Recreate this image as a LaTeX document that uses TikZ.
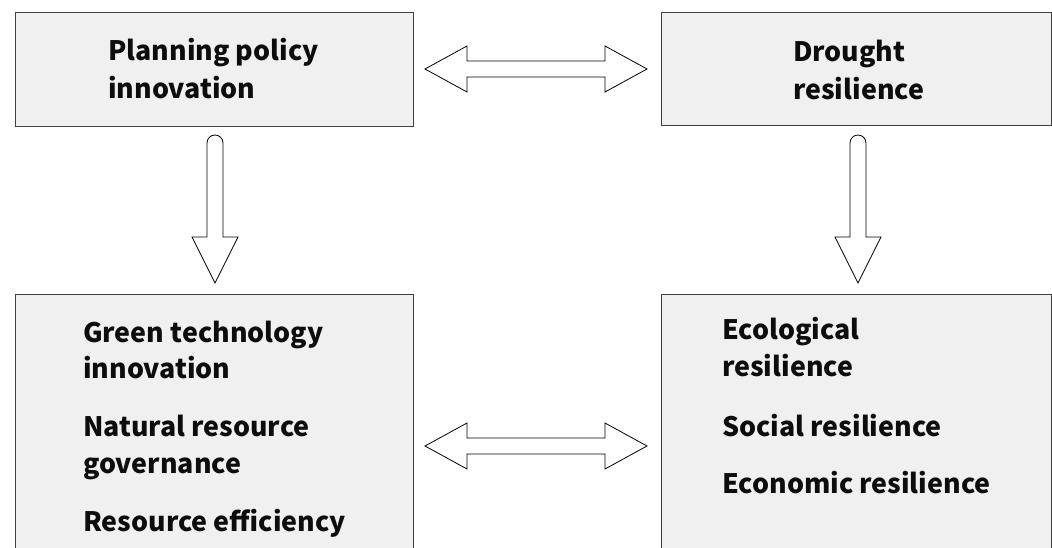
\documentclass[tikz,border=0pt]{standalone}
\usepackage{fontspec}
\setmainfont{Noto Sans CJK SC}
\begin{document}
\begin{tikzpicture}[x=1pt,y=-1pt,
  box/.style={draw=black!75, line width=0.9pt, fill=black!6, inner sep=0pt, rectangle},
  txt/.style={anchor=base west, inner sep=0pt, font=\fontsize{26.8}{33}\selectfont\bfseries, text=black!95},
  blockarrow/.style={draw=black, line width=0.8pt, fill=white, line join=miter}]
\clip (0,0) rectangle (1052,548);
\fill[white] (0,0) rectangle (1052,548);
% boxes
\node[box, minimum width=398pt, minimum height=114pt] (tl) at (214,69) {};
\node[box, minimum width=390pt, minimum height=113pt] (tr) at (856,68.5) {};
\node[box, minimum width=398pt, minimum height=270pt] (bl) at (214,429) {};
\node[box, minimum width=390pt, minimum height=270pt] (br) at (856,429) {};
% texts
\node[txt] (t1) at (108,61) {Planning policy};
\node[txt] (t2) at (108,99) {innovation};
\node[txt] (t3) at (793,62) {Drought};
\node[txt] (t4) at (793,100) {resilience};
\node[txt] (t5) at (83,342) {Green technology};
\node[txt] (t6) at (83,378) {innovation};
\node[txt] (t7) at (83,436) {Natural resource};
\node[txt] (t8) at (83,473) {governance};
\node[txt] (t9) at (83,531) {Resource efficiency};
\node[txt] (t10) at (722,339) {Ecological};
\node[txt] (t11) at (722,376) {resilience};
\node[txt] (t12) at (722,436) {Social resilience};
\node[txt] (t13) at (722,493) {Economic resilience};
% horizontal double arrows
\coordinate (h1l) at (425,69);
\coordinate (h1r) at (647,69);
\draw[blockarrow] (h1l) -- ++(42,-23) -- ++(0,15) -- ++(138,0) -- ++(0,-15) -- (h1r)
  -- ++(-42,23) -- ++(0,-15) -- ++(-138,0) -- ++(0,15) -- cycle;
\coordinate (h2l) at (425,446);
\coordinate (h2r) at (647,446);
\draw[blockarrow] (h2l) -- ++(42,-23) -- ++(0,15) -- ++(138,0) -- ++(0,-15) -- (h2r)
  -- ++(-42,23) -- ++(0,-15) -- ++(-138,0) -- ++(0,15) -- cycle;
% vertical arrows
\coordinate (v1) at (215,283);
\draw[blockarrow] (v1) -- ++(-23,-46) -- ++(15,0) -- ++(0,-94) arc (180:360:8) -- ++(0,94) -- ++(15,0) -- cycle;
\coordinate (v2) at (858,283);
\draw[blockarrow] (v2) -- ++(-23,-46) -- ++(15,0) -- ++(0,-94) arc (180:360:8) -- ++(0,94) -- ++(15,0) -- cycle;
\end{tikzpicture}
\end{document}
